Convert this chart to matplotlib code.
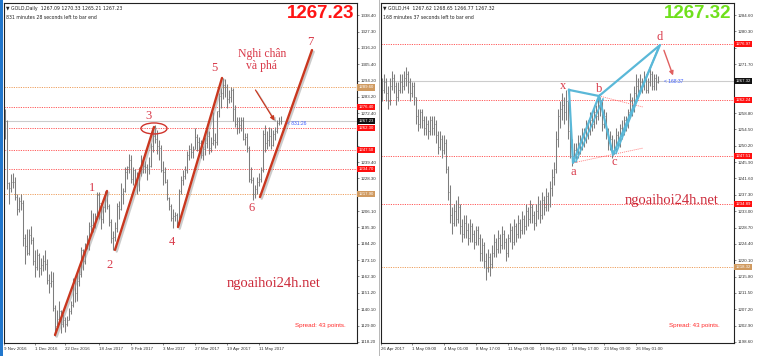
import numpy as np
import matplotlib
matplotlib.use('Agg')
import matplotlib.pyplot as plt
import matplotlib.patheffects as pe
from matplotlib.patches import Ellipse, Rectangle
from matplotlib.transforms import blended_transform_factory

# ---------------- GOLD Daily (left panel), 9 Nov 2016 .. 26 May 2017 ----------------
d_high = [1337, 1275, 1268, 1226, 1231, 1232, 1229, 1218, 1216, 1218, 1214, 1191, 1194, 1194, 1196, 1189,
          1180, 1181, 1178, 1175, 1177, 1180, 1174, 1164, 1166, 1165, 1143, 1140, 1146, 1140, 1137, 1135, 1136, 1141, 1146, 1161, 1162,
          1164, 1168, 1182, 1181, 1185, 1190, 1199, 1207, 1205, 1205, 1219, 1219, 1212, 1210, 1220, 1220, 1211, 1201, 1193, 1199, 1212,
          1213, 1225, 1222, 1236, 1237, 1245, 1244, 1236, 1235, 1233, 1236, 1244, 1243, 1240, 1238, 1243, 1252, 1260, 1264, 1261,
          1254, 1251, 1240, 1236, 1228, 1216, 1211, 1208, 1206, 1205, 1221, 1230, 1234, 1237, 1247, 1251, 1252, 1250, 1262, 1258, 1256, 1254, 1250,
          1256, 1261, 1260, 1256, 1273, 1259, 1274, 1286, 1289, 1296, 1295, 1292, 1288, 1290, 1289, 1278, 1270, 1270, 1270,
          1270, 1259, 1259, 1250, 1236, 1229, 1224, 1229, 1232, 1236, 1261, 1264, 1260, 1263, 1262, 1261, 1263, 1268, 1270, 1270.33]
d_low = [1267, 1255, 1221, 1211, 1219, 1222, 1214, 1204, 1206, 1207, 1183, 1171, 1177, 1177, 1184, 1170,
         1162, 1167, 1162, 1163, 1166, 1167, 1157, 1151, 1155, 1139, 1122, 1128, 1132, 1124, 1128, 1125, 1129, 1133, 1137, 1142, 1145,
         1146, 1156, 1162, 1167, 1171, 1181, 1180, 1192, 1192, 1195, 1201, 1201, 1194, 1198, 1206, 1208, 1196, 1185, 1180, 1186, 1192,
         1201, 1207, 1211, 1219, 1228, 1232, 1225, 1224, 1223, 1218, 1220, 1230, 1232, 1232, 1227, 1231, 1236, 1246, 1252, 1245,
         1241, 1233, 1224, 1225, 1214, 1207, 1200, 1195, 1200, 1196, 1197, 1218, 1224, 1228, 1232, 1241, 1242, 1242, 1248, 1247, 1246, 1242, 1241,
         1244, 1249, 1245, 1246, 1251, 1249, 1251, 1270, 1276, 1282, 1283, 1276, 1279, 1280, 1267, 1263, 1258, 1259, 1260,
         1254, 1251, 1246, 1226, 1225, 1214, 1215, 1218, 1223, 1226, 1233, 1246, 1248, 1250, 1248, 1250, 1254, 1259, 1264, 1265.21]
d_close = [1274, 1267, 1225, 1222, 1226, 1226, 1216, 1208, 1213, 1212, 1188, 1183, 1178, 1190, 1187, 1173,
           1169, 1177, 1168, 1170, 1173, 1171, 1160, 1158, 1159, 1141, 1129, 1134, 1139, 1130, 1133, 1130, 1133, 1139, 1143, 1158, 1151,
           1159, 1164, 1180, 1173, 1184, 1186, 1196, 1197, 1196, 1203, 1217, 1212, 1201, 1209, 1218, 1210, 1199, 1188, 1189, 1195, 1210,
           1208, 1218, 1220, 1233, 1236, 1241, 1228, 1234, 1226, 1229, 1232, 1238, 1237, 1236, 1235, 1237, 1250, 1257, 1255, 1250,
           1249, 1234, 1233, 1226, 1215, 1210, 1202, 1203, 1204, 1199, 1220, 1227, 1230, 1234, 1244, 1248, 1246, 1248, 1256, 1253, 1252, 1244, 1248,
           1252, 1257, 1249, 1252, 1254, 1253, 1274, 1284, 1286, 1291, 1290, 1282, 1283, 1288, 1275, 1265, 1267, 1264, 1268,
           1255, 1256, 1249, 1228, 1227, 1218, 1221, 1226, 1228, 1234, 1258, 1252, 1254, 1257, 1251, 1258, 1260, 1266, 1267, 1267.23]
d_open = [1275] + d_close[:-1]

d_ticks = [0.5, 16, 31, 48, 64, 80, 96, 112, 128]
d_ticklabels = ['9 Nov 2016', '1 Dec 2016', '22 Dec 2016', '18 Jan 2017', '9 Feb 2017',
                '3 Mar 2017', '27 Mar 2017', '19 Apr 2017', '11 May 2017']
d_yticks = [1338.40, 1327.30, 1316.20, 1305.40, 1294.20, 1283.20, 1272.40, 1261.30, 1250.20, 1239.40,
            1228.30, 1217.20, 1206.10, 1195.30, 1184.20, 1173.10, 1162.30, 1151.20, 1140.10, 1129.00, 1118.20]
d_red_levels = [1276.40, 1262.30, 1247.50, 1234.70]
d_orange_levels = [1289.60, 1217.90]
d_bid = 1267.23

# wave drawings (bar index, price)
d_waves = [((26, 1122.9), (52, 1219.9)), ((56, 1180.2), (75.5, 1263.0)),
           ((87.5, 1195.6), (109.5, 1296.0)), ((128.5, 1215.8), (154.5, 1314.8))]
d_wave_labels = ['1', '2', '3', '4', '5', '6', '7']
d_wave_x = [44.5, 53.5, 72.5, 84.5, 105.5, 124.5, 153.5]
d_wave_y = [1222, 1170, 1270.5, 1185.5, 1302.7, 1208.4, 1320.2]

# ---------------- GOLD H4 (right panel) ----------------
h_close = [1265, 1267, 1264, 1262, 1266, 1268, 1266, 1263, 1265, 1267,
           1266, 1268, 1269, 1267, 1264, 1266, 1263,
           1258, 1256, 1259, 1257, 1255, 1256, 1254, 1257,
           1255, 1256, 1253, 1250, 1252, 1249, 1251,
           1244, 1238, 1232, 1230, 1233,
           1231, 1234, 1229, 1227, 1230, 1228, 1226, 1229,
           1227, 1225, 1228, 1226, 1222, 1224, 1220, 1218, 1221, 1219,
           1222, 1225, 1223, 1226, 1224, 1227, 1225, 1222, 1226, 1228, 1225, 1229, 1227, 1230,
           1228, 1231, 1229, 1233, 1231, 1234, 1232, 1230, 1233, 1235, 1232, 1236,
           1234, 1237, 1235, 1239, 1242, 1244,
           1252, 1258, 1260, 1261, 1259, 1262,
           1254, 1250, 1247, 1249,
           1248, 1251, 1250, 1253, 1252, 1255, 1254, 1257, 1256, 1259, 1258, 1261,
           1260, 1256, 1258, 1254, 1251, 1252, 1249,
           1250, 1253, 1251, 1255, 1254, 1257, 1256, 1259,
           1262, 1260, 1264, 1266, 1265, 1267,
           1266, 1268, 1265, 1267, 1269, 1266, 1268, 1267, 1267.32]
h_high = [1268, 1269, 1268, 1266, 1268, 1270, 1269, 1267, 1267, 1269,
          1269, 1270, 1271, 1270, 1268, 1267, 1267,
          1263, 1260, 1260, 1260, 1258, 1258, 1257, 1258,
          1258, 1258, 1257, 1254, 1254, 1253, 1253,
          1252, 1245, 1240, 1234, 1235,
          1236, 1237, 1235, 1231, 1232, 1232, 1230, 1231,
          1230, 1228, 1229, 1229, 1227, 1226, 1225, 1222, 1223, 1222,
          1224, 1227, 1226, 1228, 1227, 1229, 1228, 1226, 1227, 1230, 1229, 1231, 1230, 1232,
          1231, 1233, 1232, 1235, 1234, 1236, 1235, 1233, 1235, 1237, 1236, 1238,
          1237, 1239, 1238, 1241, 1244, 1246,
          1254, 1260, 1262, 1264, 1263, 1265,
          1262, 1256, 1252, 1251,
          1251, 1253, 1253, 1255, 1255, 1257, 1257, 1259, 1259, 1261, 1261, 1263,
          1263, 1262, 1260, 1259, 1255, 1254, 1253,
          1252, 1255, 1254, 1256, 1257, 1258, 1258, 1260,
          1264, 1263, 1266, 1269, 1268, 1269,
          1268, 1270, 1269, 1268, 1271, 1270, 1269, 1269, 1268.65]
h_low = [1262, 1264, 1262, 1260, 1261, 1265, 1264, 1261, 1262, 1264,
         1264, 1265, 1266, 1264, 1262, 1263, 1261,
         1256, 1254, 1255, 1255, 1253, 1253, 1252, 1253,
         1253, 1253, 1251, 1248, 1249, 1247, 1248,
         1243, 1236, 1230, 1227, 1229,
         1229, 1230, 1227, 1225, 1226, 1226, 1224, 1225,
         1225, 1223, 1224, 1224, 1220, 1220, 1218, 1215, 1217, 1216,
         1218, 1221, 1221, 1222, 1222, 1223, 1223, 1220, 1221, 1225, 1223, 1224, 1225, 1226,
         1226, 1227, 1227, 1228, 1229, 1230, 1230, 1228, 1229, 1231, 1230, 1231,
         1232, 1233, 1233, 1234, 1237, 1240,
         1243, 1250, 1255, 1257, 1256, 1257,
         1252, 1247, 1245, 1246,
         1246, 1247, 1248, 1249, 1250, 1251, 1252, 1253, 1254, 1255, 1256, 1257,
         1258, 1254, 1255, 1252, 1249, 1249, 1247,
         1248, 1249, 1250, 1250, 1252, 1253, 1254, 1255,
         1258, 1258, 1259, 1262, 1263, 1264,
         1264, 1265, 1264, 1264, 1266, 1265, 1265, 1265, 1266.77]
h_open = [1265] + h_close[:-1]

h_ticks = [-0.5, 15, 31, 47, 63, 79, 95, 111, 127]
h_ticklabels = ['26 Apr 2017', '1 May 09:00', '4 May 01:00', '8 May 17:00', '11 May 09:00',
                '16 May 01:00', '18 May 17:00', '23 May 09:00', '26 May 01:00']
h_yticks = [1284.60, 1280.30, 1276.00, 1271.70, 1267.40, 1263.10, 1258.80, 1254.50, 1250.20, 1245.90,
            1241.60, 1237.30, 1233.00, 1228.70, 1224.40, 1220.10, 1215.80, 1211.50, 1207.20, 1202.90, 1198.60]
h_red_levels = [1276.97, 1262.24, 1247.51, 1234.89]
h_orange_levels = [1218.32]
h_bid = 1267.32

# XABCD pattern points (bar index, price)
pat_names = ['x', 'a', 'b', 'c', 'd']
pat_x = [93.5, 95.5, 108.5, 115.5, 139]
pat_y = [1264.9, 1245.7, 1263.3, 1247.8, 1276.7]
pat_lab_x = [90.5, 95.5, 108.5, 116, 139]
pat_lab_y = [1265.9, 1243.3, 1265.1, 1245.9, 1278.8]

RED_TXT = '#d93a4a'
BAR = '#7d7d7d'


def draw_bars(ax, o, h, l, c):
    x = np.arange(len(c))
    o, h, l, c = map(np.asarray, (o, h, l, c))
    hi = np.maximum(h, np.maximum(o, c))
    lo = np.minimum(l, np.minimum(o, c))
    ax.vlines(x, lo, hi, color=BAR, lw=0.75, zorder=3)
    ax.hlines(o, x - 0.6, x, color='#a8a8a8', lw=0.6, zorder=2)
    ax.hlines(c, x, x + 0.6, color='#a8a8a8', lw=0.6, zorder=2)


def price_box(ax, y, fc, txt_color='white'):
    tr = blended_transform_factory(ax.transAxes, ax.transData)
    ax.text(1.004, y, '%.2f' % y, transform=tr, fontsize=3.1, color=txt_color,
            va='center', ha='left', family='Liberation Sans', clip_on=False, zorder=10,
            bbox=dict(boxstyle='square,pad=0.25', fc=fc, ec='none'))


def setup(ax, xlim, ylim, xt, xtl, yt, boxes):
    ax.set_xlim(*xlim)
    ax.set_ylim(*ylim)
    ax.yaxis.tick_right()
    ax.set_yticks(yt)
    # labels hidden behind a price box (as on the terminal)
    px_per_unit = 340 / (ylim[1] - ylim[0])
    labs = []
    for v in yt:
        covered = any(abs(v - b) * px_per_unit < 5.5 for b in boxes)
        labs.append('' if covered else '%.2f' % v)
    ax.set_yticklabels(labs)
    ax.set_xticks(xt)
    ax.set_xticklabels(xtl, ha='left')
    ax.tick_params(axis='both', labelsize=3.2, length=1.5, width=0.4, pad=1.2, colors='#333333')
    for lab in ax.get_xticklabels() + ax.get_yticklabels():
        lab.set_family('Liberation Sans')
    for s in ax.spines.values():
        s.set_linewidth(0.8)
        s.set_color('#222222')


fig = plt.figure(figsize=(7.63, 3.56), dpi=100)
fig.patch.set_facecolor('white')

axL = fig.add_axes([4 / 763, 13 / 356, 353 / 763, 340 / 356])
axR = fig.add_axes([381 / 763, 13 / 356, 353 / 763, 340 / 356])

# ---------- left panel ----------
setup(axL, (0.5, 177), (1117.5, 1346.5), d_ticks, d_ticklabels, d_yticks,
      d_red_levels + d_orange_levels + [d_bid])
for lv in d_red_levels:
    axL.axhline(lv, color='#ff5a5a', lw=0.7, ls=(0, (1.2, 1.2)), zorder=1)
    price_box(axL, lv, '#ff1010')
for lv in d_orange_levels:
    axL.axhline(lv, color='#eea060', lw=0.7, ls=(0, (1.2, 1.2)), zorder=1)
    price_box(axL, lv, '#d09a60')
axL.axhline(d_bid, color='#cccccc', lw=0.8, zorder=1)
price_box(axL, d_bid, '#111111')
draw_bars(axL, d_open, d_high, d_low, d_close)

shadow = [pe.SimpleLineShadow(offset=(1.2, -1.2), shadow_color='#999999', alpha=0.5), pe.Normal()]
for (p0, p1) in d_waves:
    axL.plot([p0[0], p1[0]], [p0[1], p1[1]], color='#c9371f', lw=1.7, zorder=5,
             solid_capstyle='round', path_effects=shadow)
for lab, xx, yy in zip(d_wave_labels, d_wave_x, d_wave_y):
    axL.text(xx, yy, lab, fontsize=9, color=RED_TXT, family='Liberation Serif',
             ha='center', va='center', zorder=6)
axL.add_patch(Ellipse((75.5, 1262.0), 13, 7.4, fill=False, ec='#d0342c', lw=1.0, zorder=6))
axL.text(129.5, 1308, 'Nghi chân\nvà phá', fontsize=8.5, color=RED_TXT, family='Liberation Serif',
         ha='center', va='center', linespacing=1.0, zorder=6)
axL.annotate('', xy=(136.5, 1265.7), xytext=(125.5, 1289.5),
             arrowprops=dict(arrowstyle='-|>', color='#c9371f', lw=0.9, mutation_scale=6,
                             path_effects=shadow), zorder=6)
axL.text(142, 1265.6, '< 831:26', fontsize=3.6, color='#3a5bff', family='Liberation Sans',
         ha='left', va='center', zorder=6)
axL.text(135.5, 1157.3, 'ngoaihoi24h.net', fontsize=10.5, color='#cc2a3a', family='Liberation Serif',
         ha='center', va='center', zorder=6)
axL.text(0.968, 0.05, 'Spread: 43 points.', transform=axL.transAxes, fontsize=4.5, color='#ff2a2a',
         family='Liberation Sans', ha='right', va='center')
axL.text(0.993, 0.993, '1267.23', transform=axL.transAxes, fontsize=13.5, color='#ff1414',
         family='Liberation Sans', weight='bold', ha='right', va='top')
axL.text(0.006, 0.992, '\u25bc GOLD,Daily  1267.09 1270.33 1265.21 1267.23', transform=axL.transAxes,
         fontsize=3.3, color='#222222', family='DejaVu Sans', ha='left', va='top')
axL.text(0.006, 0.965, '831 minutes 28 seconds left to bar end', transform=axL.transAxes,
         fontsize=3.3, color='#222222', family='DejaVu Sans', ha='left', va='top')

# ---------- right panel ----------
setup(axR, (-0.5, 176), (1198.33, 1287.76), h_ticks, h_ticklabels, h_yticks,
      h_red_levels + h_orange_levels + [h_bid])
for lv in h_red_levels:
    axR.axhline(lv, color='#ff5a5a', lw=0.7, ls=(0, (1.2, 1.2)), zorder=1)
    price_box(axR, lv, '#ff1010')
for lv in h_orange_levels:
    axR.axhline(lv, color='#eea060', lw=0.7, ls=(0, (1.2, 1.2)), zorder=1)
    price_box(axR, lv, '#d09a60')
axR.axhline(h_bid, color='#cccccc', lw=0.8, zorder=1)
price_box(axR, h_bid, '#111111')
draw_bars(axR, h_open, h_high, h_low, h_close)

# faint dotted guide lines from a and b
axR.plot([pat_x[2], 130.5], [pat_y[2], 1260.4], color='#ff7070', lw=0.6, ls=(0, (1.2, 1.2)), zorder=4)
axR.plot([pat_x[1], 130.5], [pat_y[1], 1249.6], color='#ff7070', lw=0.6, ls=(0, (1.2, 1.2)), zorder=4)

CYAN = '#5ab8d8'
X, A, B, C, D = list(zip(pat_x, pat_y))
for tri in ([X, A, B, X], [B, C, D, B]):
    axR.plot([p[0] for p in tri], [p[1] for p in tri], color=CYAN, lw=1.6, zorder=5,
             solid_joinstyle='round')
axR.plot([A[0] + 1.5, B[0] + 2], [A[1] + 0.4, B[1] - 0.8], color=CYAN, lw=1.2, zorder=5)
axR.plot([C[0] + 1.5, D[0] - 1], [C[1] + 0.4, D[1] - 1.0], color=CYAN, lw=1.2, zorder=5)
for lab, xx, yy in zip(pat_names, pat_lab_x, pat_lab_y):
    axR.text(xx, yy, lab, fontsize=9, color=RED_TXT, family='Liberation Serif',
             ha='center', va='center', zorder=6)
axR.annotate('', xy=(146, 1268.0), xytext=(140.5, 1276.0),
             arrowprops=dict(arrowstyle='-|>', color='#e06060', lw=1.0, mutation_scale=6), zorder=6)
axR.text(141, 1267.0, '< 168:37', fontsize=3.6, color='#3a5bff', family='Liberation Sans',
         ha='left', va='center', zorder=6)
axR.text(145, 1235.9, 'ngoaihoi24h.net', fontsize=10.5, color='#cc2a3a', family='Liberation Serif',
         ha='center', va='center', zorder=6)
axR.text(0.96, 0.05, 'Spread: 43 points.', transform=axR.transAxes, fontsize=4.5, color='#ff2a2a',
         family='Liberation Sans', ha='right', va='center')
axR.text(0.993, 0.993, '1267.32', transform=axR.transAxes, fontsize=13.5, color='#6fe01c',
         family='Liberation Sans', weight='bold', ha='right', va='top')
axR.text(0.006, 0.992, '\u25bc GOLD,H4  1267.62 1268.65 1266.77 1267.32', transform=axR.transAxes,
         fontsize=3.3, color='#222222', family='DejaVu Sans', ha='left', va='top')
axR.text(0.006, 0.965, '168 minutes 37 seconds left to bar end', transform=axR.transAxes,
         fontsize=3.3, color='#222222', family='DejaVu Sans', ha='left', va='top')

# window frame details
fig.add_artist(Rectangle((0, 0), 3 / 763, 1, transform=fig.transFigure, fc='#2277cc', ec='none'))
fig.add_artist(Rectangle((378.5 / 763, 0), 1.2 / 763, 1, transform=fig.transFigure, fc='#b8b8b8', ec='none'))

fig.savefig('out.png', dpi=100)
